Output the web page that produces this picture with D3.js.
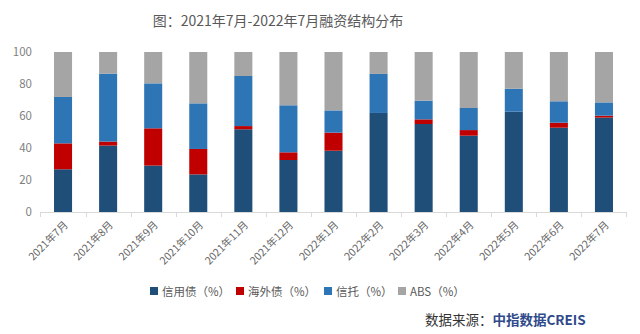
<!DOCTYPE html>
<html><head><meta charset="utf-8">
<script src="https://cdn.jsdelivr.net/npm/d3@7"></script>
<style>body{margin:0;background:#fff;}svg{display:block;font-family:"Noto Sans CJK SC","Noto Sans",sans-serif;}</style>
</head><body><svg id="c" width="640" height="334"></svg>
<script>
const categories = ["2021年7月","2021年8月","2021年9月","2021年10月","2021年11月","2021年12月","2022年1月","2022年2月","2022年3月","2022年4月","2022年5月","2022年6月","2022年7月"];
const credit   = [26.7, 41.5, 29.0, 23.5, 51.7, 32.5, 38.3, 61.9, 55.0, 47.7, 62.7, 52.7, 59.0];
const overseas = [16.2,  2.5, 23.3, 15.9,  2.0,  4.8, 11.3,  0.0,  2.9,  3.5,  0.0,  3.1,  1.2];
const trust    = [29.0, 42.5, 28.1, 28.5, 31.3, 29.4, 13.9, 24.4, 11.7, 13.8, 14.4, 13.4,  8.3];
const abs      = [28.1, 13.5, 19.6, 32.1, 15.0, 33.3, 36.5, 13.7, 30.4, 35.0, 22.9, 30.8, 31.5];
const seriesNames = ["信用债（%）","海外债（%）","信托（%）","ABS（%）"];
const yTicks = [0,20,40,60,80,100];
const colors = ["#1F4E79","#C00000","#2E75B6","#A5A5A5"];

const svg = d3.select("#c");
const keys = ["credit","overseas","trust","abs"];
const rows = categories.map((c,i)=>({cat:c, credit:credit[i], overseas:overseas[i], trust:trust[i], abs:abs[i]}));
const stack = d3.stack().keys(keys)(rows);

const x = d3.scaleBand().domain(categories).range([40.5,626.5]).paddingInner(0.6).paddingOuter(0.3);
const y = d3.scaleLinear().domain([0,100]).range([212,52]);

// title
svg.append("text").attr("x",278).attr("y",26).attr("text-anchor","middle")
  .attr("font-size",14).attr("fill","#595959").text("图：2021年7月-2022年7月融资结构分布");

// y axis labels
svg.append("g").selectAll("text").data(yTicks).join("text")
  .attr("x",32).attr("y",d=>y(d)+4).attr("text-anchor","end")
  .attr("font-size",11.5).attr("fill","#7F7F7F").text(d=>d);

// bars
svg.append("g").selectAll("g").data(stack).join("g").attr("fill",(d,i)=>colors[i])
  .selectAll("rect").data(d=>d).join("rect")
  .attr("x",d=>x(d.data.cat)).attr("width",x.bandwidth())
  .attr("y",d=>y(d[1])).attr("height",d=>Math.max(0,y(d[0])-y(d[1])));

// x axis
const step = x.step();
svg.append("line").attr("x1",40.5).attr("x2",626.5).attr("y1",212.5).attr("y2",212.5).attr("stroke","#D9D9D9");
const bounds = categories.map((c)=>x(c)+x.bandwidth()/2-step/2).concat([x(categories[categories.length-1])+x.bandwidth()/2+step/2]);
svg.append("g").selectAll("line").data(bounds).join("line")
  .attr("x1",d=>Math.round(d)+0.5).attr("x2",d=>Math.round(d)+0.5).attr("y1",212).attr("y2",217).attr("stroke","#D9D9D9");

svg.append("g").selectAll("text").data(categories).join("text")
  .attr("transform",d=>`translate(${x(d)+x.bandwidth()/2+3},${223}) rotate(-45)`)
  .attr("text-anchor","end").attr("dy","0.35em")
  .attr("font-size",10.5).attr("fill","#666666").text(d=>d);

// legend
const legX = [150,236,324,398];
const lg = svg.append("g").selectAll("g").data(seriesNames).join("g")
  .attr("transform",(d,i)=>`translate(${legX[i]},291)`);
lg.append("rect").attr("x",0).attr("y",-4).attr("width",8).attr("height",8).attr("fill",(d,i)=>colors[i]);
lg.append("text").attr("x",12).attr("y",4.5).attr("font-size",11.5).attr("fill","#595959").text(d=>d);

// source
const src = svg.append("text").attr("x",425).attr("y",325).attr("font-size",13.5);
src.append("tspan").attr("fill","#333333").text("数据来源：");
src.append("tspan").attr("fill","#2F4A8A").attr("font-weight","bold").text("中指数据CREIS");
</script></body></html>
